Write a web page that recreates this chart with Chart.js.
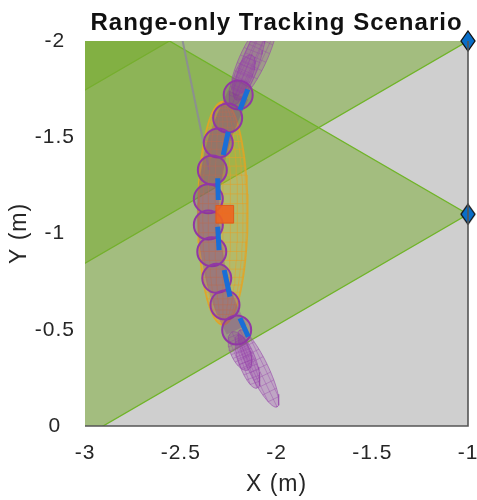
<!DOCTYPE html>
<html><head><meta charset="utf-8">
<script src="https://cdn.jsdelivr.net/npm/chart.js@4"></script>
<style>html,body{margin:0;padding:0;background:#fff;}canvas{display:block;}</style>
</head><body>
<canvas id="c" width="477" height="500"></canvas>
<script>
// ---- data (metres) ----
const xTicks = [-3, -2.5, -2, -1.5, -1];
const yTicks = [-2, -1.5, -1, -0.5, 0];

const sensorX = [-1, -1, -1];
const sensorY = [-2.9, -2.0, -1.1];
const fovHalfDeg = 30;
const coverageRange = 5;

const truthX = [-2.49, -2.352];
const truthY = [-2.0, -1.33];

const detX = [-2.200, -2.255, -2.304, -2.335, -2.356, -2.356, -2.338, -2.312, -2.269, -2.208];
const detY = [-1.720, -1.600, -1.470, -1.330, -1.180, -1.044, -0.905, -0.767, -0.629, -0.499];

const segX0 = [-2.150, -2.252, -2.307, -2.307, -2.273, -2.191];
const segY0 = [-1.749, -1.529, -1.287, -1.035, -0.810, -0.560];
const segX1 = [-2.191, -2.278, -2.304, -2.300, -2.243, -2.147];
const segY1 = [-1.642, -1.408, -1.174, -0.914, -0.672, -0.464];

const estX = [-2.27];
const estY = [-1.10];
const covCenterX = [-2.28];
const covCenterY = [-1.105];
const covRadiusX = [0.13];
const covRadiusY = [0.58];

const plumeX0 = [-2.211, -2.232, -2.217, -2.191, -2.201, -2.232];
const plumeY0 = [-1.694, -1.668, -1.719, -0.499, -0.473, -0.488];
const plumeX1 = [-2.008, -2.076, -2.128, -1.997, -2.102, -2.149];
const plumeY1 = [-2.135, -2.068, -1.927, -0.099, -0.197, -0.291];
const plumeHalfW = [0.060, 0.055, 0.045, 0.050, 0.045, 0.050];

// ---- geometry helpers ----
const D = Math.PI / 180;
function wedge(i) {
  const sx = sensorX[i], sy = sensorY[i];
  const a1 = (180 - fovHalfDeg) * D, a2 = (180 + fovHalfDeg) * D;
  return [{x: sx, y: sy},
          {x: sx + coverageRange * Math.cos(a1), y: sy + coverageRange * Math.sin(a1)},
          {x: sx + coverageRange * Math.cos(a2), y: sy + coverageRange * Math.sin(a2)},
          {x: sx, y: sy}];
}
function ellipseByEnds(i, n) {
  const x0 = plumeX0[i], y0 = plumeY0[i], x1 = plumeX1[i], y1 = plumeY1[i], hw = plumeHalfW[i];
  const cx = (x0 + x1) / 2, cy = (y0 + y1) / 2, ux = (x1 - x0) / 2, uy = (y1 - y0) / 2;
  const L = Math.hypot(ux, uy), vx = -uy / L * hw, vy = ux / L * hw;
  const outline = [];
  for (let k = 0; k <= n; k++) {
    const t = 2 * Math.PI * k / n;
    outline.push({x: cx + ux * Math.cos(t) + vx * Math.sin(t), y: cy + uy * Math.cos(t) + vy * Math.sin(t)});
  }
  const mesh = [];
  [-0.6, 0, 0.6].forEach(s => {
    const r = Math.sqrt(1 - s * s);
    mesh.push({x: cx + vx * s - ux * r, y: cy + vy * s - uy * r}, {x: cx + vx * s + ux * r, y: cy + vy * s + uy * r}, {x: null, y: null});
  });
  [-0.8, -0.6, -0.4, -0.2, 0, 0.2, 0.4, 0.6, 0.8].forEach(s => {
    const r = Math.sqrt(1 - s * s);
    mesh.push({x: cx + ux * s - vx * r, y: cy + uy * s - vy * r}, {x: cx + ux * s + vx * r, y: cy + uy * s + vy * r}, {x: null, y: null});
  });
  return {outline, mesh};
}
function covEllipse() {
  const cx = covCenterX[0], cy = covCenterY[0], a = covRadiusX[0], b = covRadiusY[0];
  const outline = [];
  for (let k = 0; k <= 72; k++) {
    const t = 2 * Math.PI * k / 72;
    outline.push({x: cx + a * Math.cos(t), y: cy + b * Math.sin(t)});
  }
  const mesh = [];
  const NL = 36;
  for (let k = 1; k < NL; k++) {
    const p = Math.PI * k / NL, w = a * Math.sin(p), y = cy + b * Math.cos(p);
    mesh.push({x: cx - w, y}, {x: cx + w, y}, {x: null, y: null});
  }
  for (let j = 1; j < 10; j++) {
    const c = Math.cos(Math.PI * j / 10);
    for (let k = 0; k <= NL; k++) {
      const p = Math.PI * k / NL;
      mesh.push({x: cx + a * c * Math.sin(p), y: cy + b * Math.cos(p)});
    }
    mesh.push({x: null, y: null});
  }
  return {outline, mesh};
}
function diamondImg() {
  const c = document.createElement('canvas'); c.width = 16; c.height = 22;
  const g = c.getContext('2d');
  g.beginPath(); g.moveTo(8, 1); g.lineTo(15, 11); g.lineTo(8, 21); g.lineTo(1, 11); g.closePath();
  g.fillStyle = 'rgb(10,110,200)'; g.fill();
  g.lineWidth = 1.3; g.strokeStyle = '#111'; g.stroke();
  return c;
}

// ---- datasets, bottom to top ----
const layers = [];
const GREEN = 'rgba(119,172,48,0.5)';
sensorX.forEach((_, i) => layers.push({
  data: wedge(i), showLine: true, fill: 'shape', backgroundColor: GREEN,
  borderColor: 'rgb(112,180,40)', borderWidth: 1.3, pointRadius: 0
}));
layers.push({
  data: truthX.map((x, i) => ({x, y: truthY[i]})), showLine: true,
  borderColor: 'rgba(140,140,150,0.9)', borderWidth: 2, pointRadius: 0
});
const cov = covEllipse();
layers.push({data: cov.outline, showLine: true, fill: 'shape', backgroundColor: 'rgba(237,177,32,0.22)',
  borderColor: 'rgba(230,165,30,0.85)', borderWidth: 1.5, pointRadius: 0});
layers.push({data: cov.mesh, showLine: true, spanGaps: false,
  borderColor: 'rgba(230,160,40,0.55)', borderWidth: 1, pointRadius: 0});
plumeX0.forEach((_, i) => {
  const e = ellipseByEnds(i, 60);
  layers.push({data: e.outline, showLine: true, fill: 'shape', backgroundColor: 'rgba(150,60,170,0.28)',
    borderColor: 'rgba(150,70,170,0.6)', borderWidth: 1, pointRadius: 0});
  layers.push({data: e.mesh, showLine: true, spanGaps: false,
    borderColor: 'rgba(150,70,170,0.4)', borderWidth: 1, pointRadius: 0});
});
layers.push({
  data: detX.map((x, i) => ({x, y: detY[i]})), showLine: true, tension: 0.4,
  borderColor: 'rgba(126,47,142,0.28)', borderWidth: 22, pointRadius: 0
});
layers.push({
  data: detX.map((x, i) => ({x, y: detY[i]})), showLine: false,
  pointRadius: 14.5, pointBackgroundColor: 'rgba(126,47,142,0.25)',
  pointBorderColor: 'rgb(145,55,165)', pointBorderWidth: 2
});
const segs = [];
segX0.forEach((x, i) => segs.push({x, y: segY0[i]}, {x: segX1[i], y: segY1[i]}, {x: null, y: null}));
layers.push({data: segs, showLine: true, spanGaps: false, borderColor: 'rgb(25,110,215)', borderWidth: 5,
  borderCapStyle: 'butt', pointRadius: 0});
layers.push({data: estX.map((x, i) => ({x, y: estY[i]})), showLine: false, pointStyle: 'rect',
  pointRadius: 12.5, pointBackgroundColor: 'rgba(238,100,30,0.9)', pointBorderColor: 'rgba(225,90,25,1)', pointBorderWidth: 1});
layers.push({data: sensorX.map((x, i) => ({x, y: sensorY[i]})), showLine: false, clip: false,
  pointStyle: diamondImg(), pointRadius: 8});
layers.forEach((d, i) => { d.order = layers.length - i; });

const bgPlugin = {
  id: 'bg',
  beforeDraw(chart) {
    const ctx = chart.ctx;
    ctx.save(); ctx.fillStyle = '#fff'; ctx.fillRect(0, 0, chart.width, chart.height); ctx.restore();
    ctx.letterSpacing = '1px';
  },
  beforeDatasetsDraw(chart) {
    const {ctx, chartArea: a} = chart;
    ctx.letterSpacing = '0px';
    ctx.save(); ctx.fillStyle = 'rgb(207,207,207)';
    ctx.fillRect(a.left, a.top, a.right - a.left, a.bottom - a.top); ctx.restore();
  },
  afterDatasetsDraw(chart) {
    const {ctx, chartArea: a} = chart;
    ctx.save(); ctx.strokeStyle = 'rgb(85,85,85)'; ctx.lineWidth = 1.6;
    ctx.beginPath(); ctx.moveTo(a.left, a.bottom); ctx.lineTo(a.right, a.bottom); ctx.lineTo(a.right, a.top);
    ctx.stroke(); ctx.restore();
  }
};

const FONT = 'Liberation Sans, Arial, Helvetica, sans-serif';
new Chart(document.getElementById('c'), {
  type: 'scatter',
  data: {datasets: layers},
  options: {
    responsive: false, animation: false, events: [], devicePixelRatio: 1,
    layout: {autoPadding: false, padding: {left: 0, right: 9, top: 0, bottom: 0}},
    plugins: {
      legend: {display: false}, tooltip: {enabled: false},
      title: {display: true, text: 'Range-only Tracking Scenario', fullSize: false,
        color: '#111', font: {family: FONT, size: 24, weight: 'bold', lineHeight: 1.2},
        padding: {top: 9, bottom: 3.2}}
    },
    scales: {
      x: {type: 'linear', min: -3, max: -1,
        afterFit: s => { s.height = 74; s.paddingLeft = 0; s.paddingRight = 0; },
        afterBuildTicks: s => { s.ticks = xTicks.map(v => ({value: v})); },
        grid: {display: false}, border: {display: false},
        ticks: {color: '#262626', padding: 7, font: {family: FONT, size: 21}, maxRotation: 0,
          callback: v => String(v)},
        title: {display: true, text: 'X (m)', color: '#262626', font: {family: FONT, size: 23, lineHeight: 1.2},
          padding: {top: 0, bottom: 1.2}}
      },
      y: {type: 'linear', min: -2, max: 0, reverse: true,
        afterFit: s => { s.width = 85; s.paddingTop = 0; s.paddingBottom = 0; },
        afterBuildTicks: s => { s.ticks = yTicks.map(v => ({value: v})); },
        grid: {display: false}, border: {display: false},
        ticks: {color: '#262626', padding: 4, crossAlign: 'center', font: {family: FONT, size: 21},
          callback: v => String(v)},
        title: {display: true, text: 'Y (m)', color: '#262626', font: {family: FONT, size: 23, lineHeight: 1.2},
          padding: {top: 6, bottom: 0}}
      }
    }
  },
  plugins: [bgPlugin]
});
</script>
</body></html>
